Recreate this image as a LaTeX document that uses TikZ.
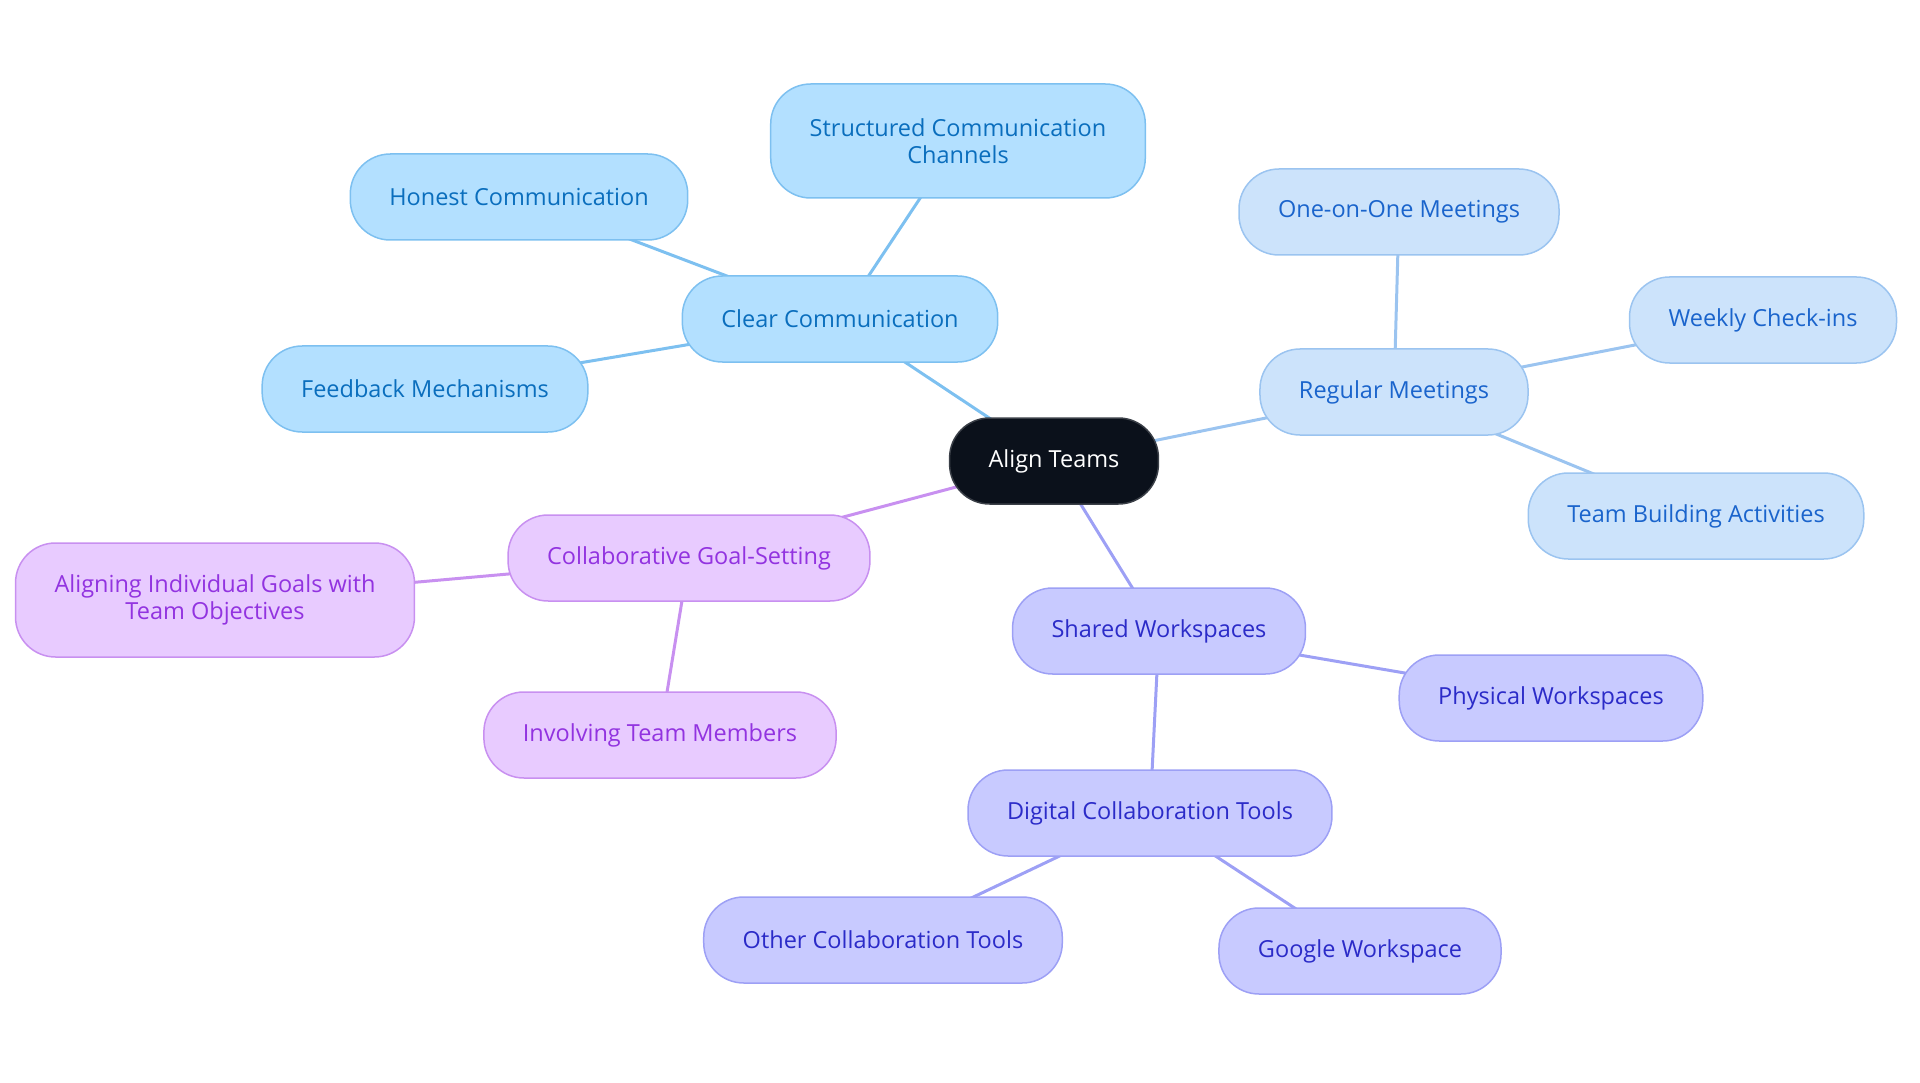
\documentclass[tikz,border=0pt]{standalone}
\usepackage{fontspec}
\setmainfont{Open Sans}
\usepackage{tikz}
\usepackage{xcolor}
\usetikzlibrary{backgrounds}

\definecolor{rootfill}{HTML}{0B111B}
\definecolor{rootline}{HTML}{3A3F47}
\definecolor{commfill}{HTML}{B3E0FF}
\definecolor{commline}{HTML}{7DC0F0}
\definecolor{commtext}{HTML}{0A6EBD}
\definecolor{meetfill}{HTML}{CCE3FB}
\definecolor{meetline}{HTML}{9BC4F0}
\definecolor{meettext}{HTML}{1A64CC}
\definecolor{goalfill}{HTML}{E8CBFF}
\definecolor{goalline}{HTML}{C890F0}
\definecolor{goaltext}{HTML}{9233E0}
\definecolor{workfill}{HTML}{C8CAFF}
\definecolor{workline}{HTML}{9DA0F5}
\definecolor{worktext}{HTML}{2B2BC8}

\tikzset{
  topic/.style={rectangle, rounded corners=40pt, line width=1.5pt,
    minimum height=86pt, inner xsep=39pt, align=center,
    font=\fontsize{23.5}{27}\selectfont},
  root/.style={topic, fill=rootfill, draw=rootline, text=white},
  comm/.style={topic, fill=commfill, draw=commline, text=commtext},
  meet/.style={topic, fill=meetfill, draw=meetline, text=meettext},
  goal/.style={topic, fill=goalfill, draw=goalline, text=goaltext},
  work/.style={topic, fill=workfill, draw=workline, text=worktext},
  twoline/.style={minimum height=114pt},
  link/.style={line width=3pt},
}

\begin{document}
\begin{tikzpicture}[x=1pt, y=-1pt]
  \useasboundingbox (0,0) rectangle (1920,1083);

  % centre
  \node[root] (align) at (1054,461) {Align Teams};

  % clear communication
  \node[comm] (clear) at (840,319) {Clear Communication};
  \node[comm, twoline] (structured) at (958,141) {Structured Communication\\Channels};
  \node[comm] (honest) at (519,197) {Honest Communication};
  \node[comm] (feedback) at (425,389) {Feedback Mechanisms};

  % regular meetings
  \node[meet] (regular) at (1394,392) {Regular Meetings};
  \node[meet] (oneonone) at (1399,212) {One-on-One Meetings};
  \node[meet] (weekly) at (1763,320) {Weekly Check-ins};
  \node[meet] (building) at (1696,516) {Team Building Activities};

  % goal setting
  \node[goal] (collab) at (689,558) {Collaborative Goal-Setting};
  \node[goal, twoline] (aligning) at (215,600) {Aligning Individual Goals with\\Team Objectives};
  \node[goal] (involving) at (660,735) {Involving Team Members};

  % workspaces
  \node[work] (shared) at (1159,631) {Shared Workspaces};
  \node[work] (physical) at (1551,698) {Physical Workspaces};
  \node[work] (digital) at (1150,813) {Digital Collaboration Tools};
  \node[work] (other) at (883,940) {Other Collaboration Tools};
  \node[work] (google) at (1360,951) {Google Workspace};

  \begin{scope}[on background layer]
    \draw[link, commline] (align.center) -- (clear.center);
    \draw[link, commline] (clear.center) -- (structured.center);
    \draw[link, commline] (clear.center) -- (honest.center);
    \draw[link, commline] (clear.center) -- (feedback.center);
    \draw[link, meetline] (align.center) -- (regular.center);
    \draw[link, meetline] (regular.center) -- (oneonone.center);
    \draw[link, meetline] (regular.center) -- (weekly.center);
    \draw[link, meetline] (regular.center) -- (building.center);
    \draw[link, goalline] (align.center) -- (collab.center);
    \draw[link, goalline] (collab.center) -- (aligning.center);
    \draw[link, goalline] (collab.center) -- (involving.center);
    \draw[link, workline] (align.center) -- (shared.center);
    \draw[link, workline] (shared.center) -- (physical.center);
    \draw[link, workline] (shared.center) -- (digital.center);
    \draw[link, workline] (digital.center) -- (other.center);
    \draw[link, workline] (digital.center) -- (google.center);
  \end{scope}
\end{tikzpicture}
\end{document}
